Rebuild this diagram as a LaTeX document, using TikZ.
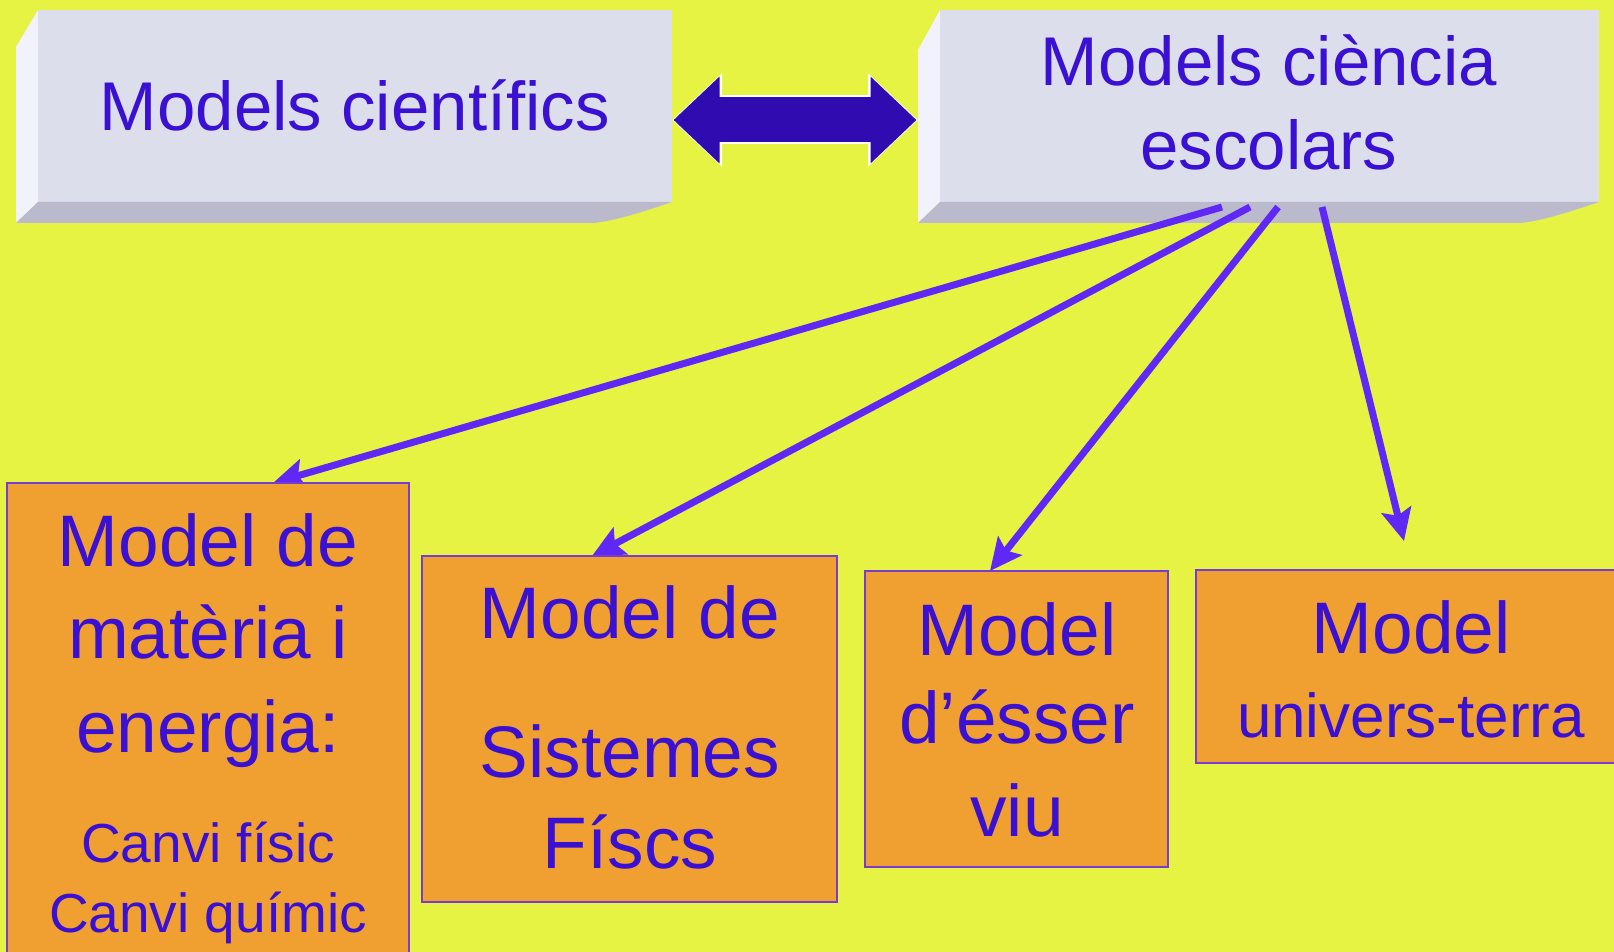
\documentclass[tikz,border=0pt]{standalone}
\usepackage{fontspec}
\setmainfont{Liberation Sans}
\usetikzlibrary{arrows.meta}

\definecolor{bgyellow}{RGB}{230,243,66}
\definecolor{faceFront}{RGB}{221,222,236}
\definecolor{faceLeft}{RGB}{242,242,252}
\definecolor{faceBottom}{RGB}{186,186,204}
\definecolor{boxOrange}{RGB}{240,160,48}
\definecolor{boxEdge}{RGB}{120,60,210}
\definecolor{inkBlue}{RGB}{58,16,210}
\definecolor{dblBlue}{RGB}{48,12,176}
\definecolor{linkViolet}{RGB}{96,40,245}

\pgfdeclarelayer{back}
\pgfdeclarelayer{links}
\pgfsetlayers{back,links,main}

\begin{document}
\begin{tikzpicture}[x=1pt,y=-1pt,
  frame/.style={inner sep=0pt, outer sep=0pt},
  orangebox/.style={frame, fill=boxOrange, draw=boxEdge, line width=2pt},
  headtxt/.style={text=inkBlue, inner sep=0pt, anchor=base, font=\fontsize{69}{83}\selectfont},
  maintxt/.style={text=inkBlue, inner sep=0pt, anchor=base, font=\fontsize{73}{88}\selectfont},
  smalltxt/.style={text=inkBlue, inner sep=0pt, anchor=base, font=\fontsize{55}{66}\selectfont},
  unitxt/.style={text=inkBlue, inner sep=0pt, anchor=base, font=\fontsize{62}{74}\selectfont},
  link/.style={draw=linkViolet, line width=7pt,
    -{Stealth[length=32pt,width=30pt,inset=6pt]}},
  dblwhite/.style={draw=white, line width=49pt,
    {Triangle[length=50pt,width=90pt]}-{Triangle[length=50pt,width=90pt]}},
  dbl/.style={draw=dblBlue, line width=45pt,
    {Triangle[length=46pt,width=84pt]}-{Triangle[length=46pt,width=84pt]},
    shorten <=1.5pt, shorten >=1.5pt}
]
\useasboundingbox (0,0) rectangle (1614,952);

% ---- bevelled boxes at the top ----
\node[frame, minimum width=656pt, minimum height=213pt] (boxA) at (344,116.5) {};
\node[frame, minimum width=681pt, minimum height=213pt] (boxB) at (1258.5,116.5) {};

\begin{pgfonlayer}{back}
  \fill[bgyellow] (0,0) rectangle (1614,952);

  \fill[faceLeft] (38,10) -- (16,47) -- (16,223) -- (38,202) -- cycle;
  \fill[faceFront] (38,10) rectangle (672,202);
  \fill[faceBottom] (38,202) -- (672,202) .. controls (645,211) and (615,221) .. (593,223)
    -- (16,223) -- cycle;

  \fill[faceLeft] (940,10) -- (918,50) -- (918,223) -- (940,202) -- cycle;
  \fill[faceFront] (940,10) rectangle (1599,202);
  \fill[faceBottom] (940,202) -- (1599,202) .. controls (1572,211) and (1542,221) .. (1520,223)
    -- (918,223) -- cycle;
\end{pgfonlayer}

\node[headtxt] (tA) at (355,131) {Models científics};
\node[headtxt] (tB1) at (1269,86) {Models ciència};
\node[headtxt] (tB2) at (1269,170) {escolars};

% ---- two-way arrow between the top boxes ----
\draw[dblwhite] ([yshift=-3.5pt]boxA.east) -- ([yshift=-3.5pt]boxB.west);
\draw[dbl] ([yshift=-3.5pt]boxA.east) -- ([yshift=-3.5pt]boxB.west);

% ---- orange model boxes ----
\node[orangebox, minimum width=402pt, minimum height=487pt] (m1) at (208,726.5) {};
\node[orangebox, minimum width=415pt, minimum height=346pt] (m2) at (629.5,729) {};
\node[orangebox, minimum width=303pt, minimum height=296pt] (m3) at (1016.5,719) {};
\node[orangebox, minimum width=434pt, minimum height=193pt] (m4) at (1413,666.5) {};

\node[maintxt] (m1a) at (208,566) {Model de};
\node[maintxt] (m1b) at (208,658) {matèria i};
\node[maintxt] (m1c) at (208,752) {energia:};
\node[smalltxt] (m1d) at (208,862) {Canvi físic};
\node[smalltxt] (m1e) at (208,932) {Canvi químic};

\node[maintxt] (m2a) at (630,638) {Model de};
\node[maintxt] (m2b) at (630,777) {Sistemes};
\node[maintxt] (m2c) at (630,868) {Físcs};

\node[maintxt] (m3a) at (1017,655) {Model};
\node[maintxt] (m3b) at (1017,743) {d’ésser};
\node[maintxt] (m3c) at (1017,836) {viu};

\node[maintxt] (m4a) at (1411,653) {Model};
\node[unitxt] (m4b) at (1411,737) {univers-terra};

% ---- arrows from the school-science box to each model ----
\begin{pgfonlayer}{links}
  \draw[link] ([shift={(-36.5,-16)}]boxB.south) -- ([xshift=65pt]m1.north);
  \draw[link] ([shift={(-8.5,-16)}]boxB.south) -- ([xshift=-37.5pt]m2.north);
  \draw[link] ([shift={(19.5,-16)}]boxB.south) -- ([xshift=-26.5pt]m3.north);
  \draw[link] ([shift={(63.5,-16)}]boxB.south) -- ([shift={(-9,-29)}]m4.north);
\end{pgfonlayer}
\end{tikzpicture}
\end{document}
